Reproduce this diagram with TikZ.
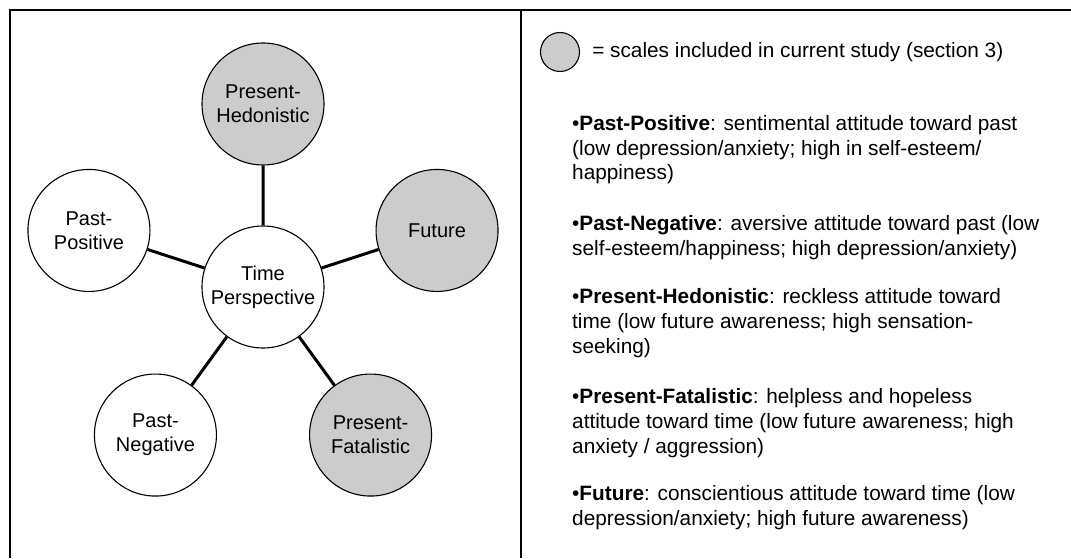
\documentclass[tikz,border=0pt]{standalone}
\usepackage{fontspec}
\setmainfont{Liberation Sans}
\usetikzlibrary{positioning, calc}
\definecolor{scalegray}{RGB}{204,204,204}

\begin{document}
\begin{tikzpicture}[x=1pt, y=1pt,
	factor/.style={circle, draw, line width=1.1pt, minimum size=122pt, inner sep=0pt, align=center, font=\fontsize{20}{24}\selectfont},
	studied/.style={factor, fill=scalegray},
	link/.style={line width=3pt},
	frame/.style={line width=2pt},
	desc/.style={anchor=base west, align=left, inner sep=0pt, font=\fontsize{20.8}{24.8}\selectfont}]
			\useasboundingbox (0,0) rectangle (1071,558);
			\draw[frame] (10,0) -- (10,548) -- (1071,548);
			\draw[frame] (521,0) -- (521,548);

			% the five scales round the centre
			\node[factor] (tp) at (263,271) {Time\\Perspective};
			\node[studied] (ph) at ($(tp)+(90:183)$) {Present-\\Hedonistic};
			\node[studied] (fu) at ($(tp)+(18:183)$) {Future};
			\node[studied] (pf) at ($(tp)+(-54:183)$) {Present-\\Fatalistic};
			\node[factor] (pn) at ($(tp)+(-126:183)$) {Past-\\Negative};
			\node[factor] (pp) at ($(tp)+(162:183)$) {Past-\\Positive};

			\draw[link] (tp) -- (ph)
			(tp) -- (fu)
			(tp) -- (pf)
			(tp) -- (pn)
			(tp) -- (pp);

			% key and descriptions (placed by the baseline of their last line)
			\node[studied, minimum size=39pt] (key) at (560,506) {};
			\node[right=12pt of key, inner sep=0pt, font=\fontsize{20.8}{24.8}\selectfont] (keytext) {= scales included in current study (section 3)};

			\node[desc] (dpp) at (572,378) {\textbullet\textbf{Past-Positive}: sentimental attitude toward past\\(low depression/anxiety; high in self-esteem/\\happiness)};
			\node[desc] (dpn) at (572,303) {\textbullet\textbf{Past-Negative}: aversive attitude toward past (low\\self-esteem/happiness; high depression/anxiety)};
			\node[desc] (dph) at (572,205) {\textbullet\textbf{Present-Hedonistic}: reckless attitude toward\\time (low future awareness; high sensation-\\seeking)};
			\node[desc] (dpf) at (572,105) {\textbullet\textbf{Present-Fatalistic}: helpless and hopeless\\attitude toward time (low future awareness; high\\anxiety / aggression)};
			\node[desc] (dfu) at (572,33) {\textbullet\textbf{Future}: conscientious attitude toward time (low\\depression/anxiety; high future awareness)};
		\end{tikzpicture}
\end{document}
